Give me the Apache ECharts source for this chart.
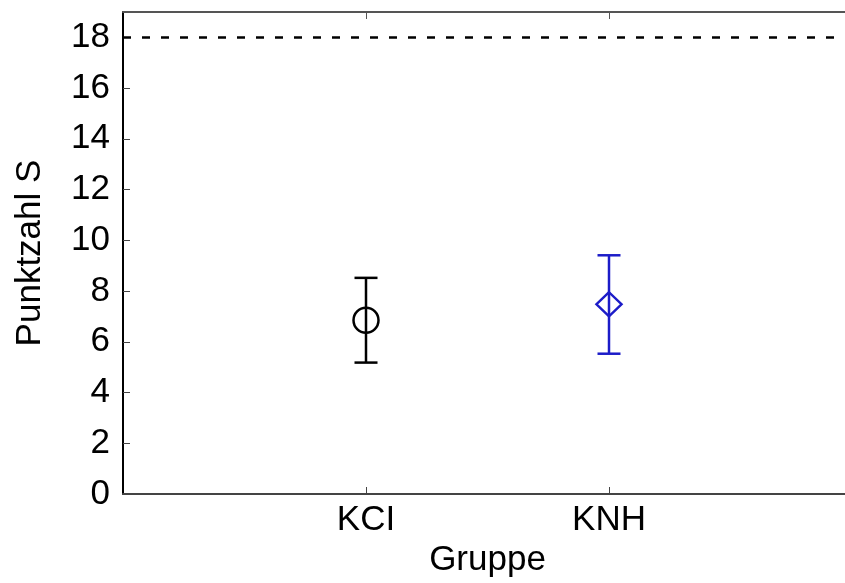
<!DOCTYPE html>
<html>
<head>
<meta charset="utf-8">
<script src="https://cdn.jsdelivr.net/npm/echarts@6/dist/echarts.min.js"></script>
<style>
  html, body { margin: 0; padding: 0; background: #fff; }
  #main { width: 845px; height: 583px; }
</style>
</head>
<body>
<div id="main"></div>
<script>
var groups = ['KCI', 'KNH'];
var groupPos = [1, 2];
var means = [6.85, 7.48];
var lower = [5.18, 5.53];
var upper = [8.52, 9.41];
var markers = ['circle', 'diamond'];
var colors = ['#000000', '#1c1cc8'];
var refLevel = 18;

var myChart = echarts.init(document.getElementById('main'));
var font = 'Liberation Sans, Arial, Helvetica, sans-serif';

var barData = groups.map(function (g, i) {
    return [groupPos[i], lower[i], upper[i], i];
});

var option = {
    backgroundColor: '#fff',
    animation: false,
    grid: { left: 123, width: 729, top: 12, bottom: 89, outerBoundsMode: 'none' },
    xAxis: [
        {
            type: 'value',
            min: 0, max: 3, interval: 1,
            name: 'Gruppe',
            nameLocation: 'middle',
            nameGap: 45,
            nameTextStyle: { fontFamily: font, fontSize: 35, color: '#000' },
            axisLine: { lineStyle: { color: '#444', width: 2 } },
            axisTick: {
                inside: true, length: 7,
                lineStyle: { color: '#444', width: 1 },
                customValues: groupPos
            },
            axisLabel: {
                margin: 9,
                fontFamily: font, fontSize: 35, color: '#000',
                customValues: groupPos,
                formatter: function (v) { return groups[v - 1] || ''; }
            },
            splitLine: { show: false }
        },
        {
            type: 'value',
            position: 'top',
            min: 0, max: 3, interval: 1,
            axisLine: { show: true, lineStyle: { color: '#555', width: 2 } },
            axisTick: {
                show: true, inside: true, length: 7,
                lineStyle: { color: '#555', width: 1 },
                customValues: groupPos
            },
            axisLabel: { show: false },
            splitLine: { show: false }
        }
    ],
    yAxis: {
        type: 'value',
        min: 0, max: 19, interval: 2,
        name: 'Punktzahl S',
        nameLocation: 'middle',
        nameGap: 75,
        nameTextStyle: { fontFamily: font, fontSize: 35, color: '#000' },
        axisLine: { show: true, lineStyle: { color: '#000', width: 2 } },
        axisTick: { inside: true, length: 7, lineStyle: { color: '#444', width: 1 } },
        axisLabel: {
            margin: 13,
            showMaxLabel: false,
            fontFamily: font, fontSize: 35, color: '#000'
        },
        splitLine: { show: false }
    },
    series: [
        {
            type: 'custom',
            silent: true,
            data: barData,
            renderItem: function (params, api) {
                var x = api.value(0);
                var lo = api.coord([x, api.value(1)]);
                var hi = api.coord([x, api.value(2)]);
                var col = colors[api.value(3)];
                var hw = 11.5;
                var st = { stroke: col, lineWidth: 2.5 };
                return {
                    type: 'group',
                    children: [
                        { type: 'line', shape: { x1: lo[0], y1: lo[1], x2: hi[0], y2: hi[1] }, style: st },
                        { type: 'line', shape: { x1: lo[0] - hw, y1: lo[1], x2: lo[0] + hw, y2: lo[1] }, style: st },
                        { type: 'line', shape: { x1: hi[0] - hw, y1: hi[1], x2: hi[0] + hw, y2: hi[1] }, style: st }
                    ]
                };
            },
            markLine: {
                silent: true,
                symbol: 'none',
                label: { show: false },
                lineStyle: { color: '#000', type: [8, 11], width: 2.5 },
                data: [{ yAxis: refLevel }]
            }
        },
        {
            type: 'scatter',
            silent: true,
            data: groups.map(function (g, i) {
                return {
                    value: [groupPos[i], means[i]],
                    symbol: markers[i],
                    symbolSize: i === 0 ? 25 : [25, 24],
                    itemStyle: { color: 'rgba(0,0,0,0)', borderColor: colors[i], borderWidth: 2.5, opacity: 1 }
                };
            })
        }
    ]
};

myChart.setOption(option);
</script>
</body>
</html>
